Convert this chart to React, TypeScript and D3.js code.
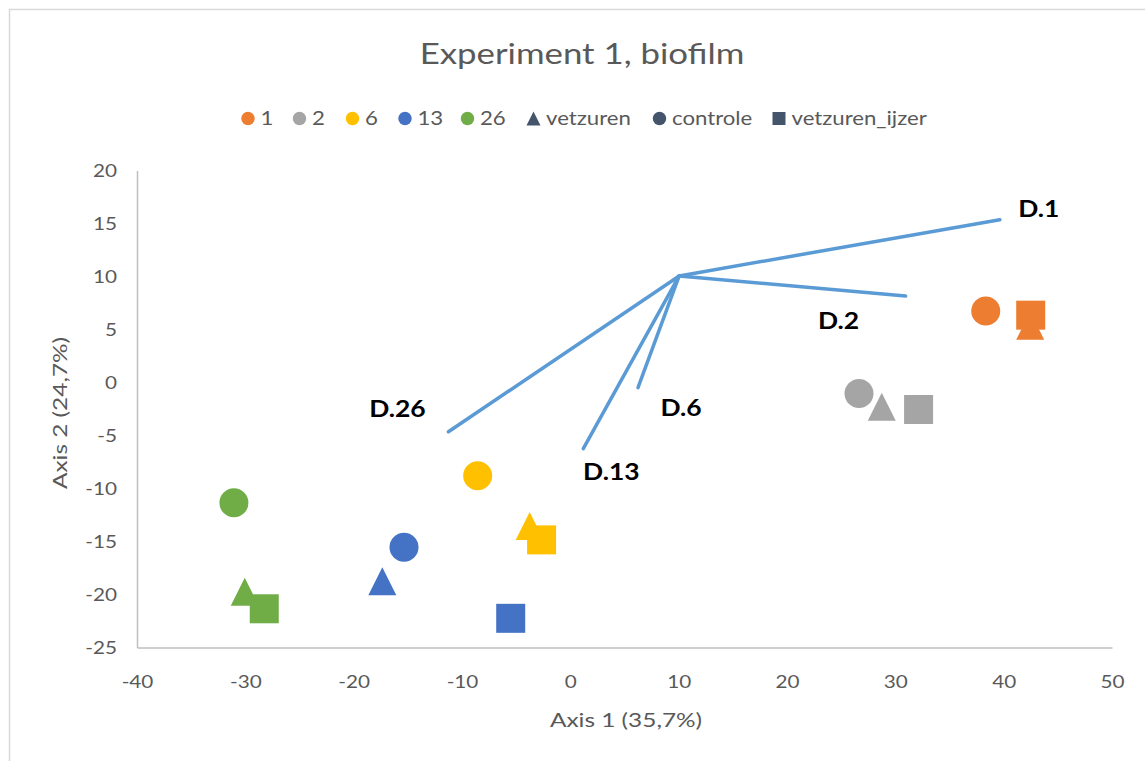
import React from "react";
import * as d3 from "d3";

// Sampling days (series) and their colours
const days = ["1", "2", "6", "13", "26"];
const dayColors = ["#ED7D31", "#A5A5A5", "#FFC000", "#4472C4", "#70AD47"];

// Site scores per treatment, one value per day
const controleX = [38.3, 26.6, -8.6, -15.4, -31.1];
const controleY = [6.8, -1.0, -8.75, -15.5, -11.3];
const vetzurenX = [42.4, 28.7, -3.8, -17.4, -30.1];
const vetzurenY = [5.4, -2.25, -13.5, -18.7, -19.7];
const ijzerX = [42.45, 32.1, -2.7, -5.55, -28.3];
const ijzerY = [6.4, -2.5, -14.8, -22.2, -21.3];

// Biplot vectors (environmental arrows) from a common origin
const vectorOrigin = [10, 10.1];
const vectorNames = ["D.1", "D.2", "D.6", "D.13", "D.26"];
const vectorEndX = [39.6, 30.9, 6.2, 1.15, -11.3];
const vectorEndY = [15.4, 8.2, -0.44, -6.2, -4.6];

// Axis ticks
const xTicks = [-40, -30, -20, -10, 0, 10, 20, 30, 40, 50];
const yTicks = [20, 15, 10, 5, 0, -5, -10, -15, -20, -25];

const treatments = ["vetzuren", "controle", "vetzuren_ijzer"];

const W = 1145;
const H = 761;
const FONT = "Lato, 'Noto Sans', sans-serif";
const TEXT_GREY = "#595959";
const AXIS_GREY = "#BFBFBF";
const VECTOR_BLUE = "#5B9BD5";
const LEGEND_DARK = "#44546A";

// pixel offsets of the vector labels relative to the arrow tips
const labelOffset: Record<string, [number, number]> = {
  "D.1": [39, -3],
  "D.2": [-67, 33],
  "D.6": [43, 28],
  "D.13": [28, 31],
  "D.26": [-51, -15],
};

const tri = (cx: number, cy: number, s: number) =>
  `M${cx},${cy - s / 2}L${cx + s / 2},${cy + s / 2}L${cx - s / 2},${cy + s / 2}Z`;

// Text widened horizontally around its anchor point
function Txt({
  x,
  y,
  sx = 1,
  rotate = 0,
  anchor = "start",
  children,
  ...rest
}: {
  x: number;
  y: number;
  sx?: number;
  rotate?: number;
  anchor?: string;
  children: React.ReactNode;
  [k: string]: any;
}) {
  return (
    <text
      transform={`translate(${x},${y}) rotate(${rotate}) scale(${sx},1)`}
      textAnchor={anchor}
      {...rest}
    >
      {children}
    </text>
  );
}

export default function App() {
  const x = d3.scaleLinear().domain([-40, 50]).range([137.5, 1112.5]);
  const y = d3.scaleLinear().domain([-25, 20]).range([648, 171]);

  const R = 14.5;
  const SQ = 29;
  const TRI = 28;

  const legendItems = [
    ...days.map((d, i) => ({ label: d, shape: "circle", color: dayColors[i], cx: [248, 299.5, 352.5, 405, 467.5][i] })),
    { label: treatments[0], shape: "triangle", color: LEGEND_DARK, cx: 533.5 },
    { label: treatments[1], shape: "circle", color: LEGEND_DARK, cx: 659.5 },
    { label: treatments[2], shape: "square", color: LEGEND_DARK, cx: 779 },
  ];

  return (
    <svg
      width={W}
      height={H}
      style={{ position: "absolute", left: 0, top: 0, background: "#fff" }}
      fontFamily={FONT}
    >
      <rect x={9.5} y={9.5} width={W} height={H} fill="#fff" stroke="#D9D9D9" strokeWidth={1.5} />

      <Txt x={582} y={64} sx={1.2} anchor="middle" fontSize={29} fill={TEXT_GREY}>
        Experiment 1, biofilm
      </Txt>

      {/* legend */}
      {legendItems.map((it) => (
        <g key={it.label}>
          {it.shape === "circle" && <circle cx={it.cx} cy={118.5} r={6.7} fill={it.color} />}
          {it.shape === "triangle" && <path d={tri(it.cx, 118.5, 14)} fill={it.color} />}
          {it.shape === "square" && <rect x={it.cx - 6.5} y={112} width={13} height={13} fill={it.color} />}
          <Txt x={it.cx + 12.5} y={125} sx={1.2} fontSize={18.5} fill={TEXT_GREY}>
            {it.label}
          </Txt>
        </g>
      ))}

      {/* axes */}
      <line x1={x(-40)} x2={x(50)} y1={y(-25)} y2={y(-25)} stroke={AXIS_GREY} strokeWidth={1.5} />
      <line x1={x(-40)} x2={x(-40)} y1={y(-25)} y2={y(20)} stroke={AXIS_GREY} strokeWidth={1.5} />

      {xTicks.map((t) => (
        <Txt key={t} x={x(t)} y={688} sx={1.15} anchor="middle" fontSize={18} fill={TEXT_GREY}>
          {t}
        </Txt>
      ))}
      {yTicks.map((t) => (
        <Txt key={t} x={117} y={y(t) + 6} sx={1.15} anchor="end" fontSize={18} fill={TEXT_GREY}>
          {t}
        </Txt>
      ))}

      <Txt x={626} y={727} sx={1.22} anchor="middle" fontSize={20} fill={TEXT_GREY}>
        Axis 1 (35,7%)
      </Txt>
      <Txt x={67} y={413} rotate={-90} sx={1.22} anchor="middle" fontSize={20} fill={TEXT_GREY}>
        Axis 2 (24,7%)
      </Txt>

      {/* biplot vectors */}
      {vectorNames.map((n, i) => (
        <line
          key={n}
          x1={x(vectorOrigin[0])}
          y1={y(vectorOrigin[1])}
          x2={x(vectorEndX[i])}
          y2={y(vectorEndY[i])}
          stroke={VECTOR_BLUE}
          strokeWidth={3.5}
          strokeLinecap="round"
        />
      ))}
      {vectorNames.map((n, i) => (
        <Txt
          key={n}
          x={x(vectorEndX[i]) + labelOffset[n][0]}
          y={y(vectorEndY[i]) + labelOffset[n][1]}
          sx={1.15}
          anchor="middle"
          fontSize={23}
          fontWeight="bold"
          fill="#000"
        >
          {n}
        </Txt>
      ))}

      {/* site markers: controle (circles), vetzuren (triangles), vetzuren_ijzer (squares) */}
      {days.map((d, i) => (
        <circle key={`c${d}`} cx={x(controleX[i])} cy={y(controleY[i])} r={R} fill={dayColors[i]} />
      ))}
      {days.map((d, i) => (
        <path key={`t${d}`} d={tri(x(vetzurenX[i]), y(vetzurenY[i]), TRI)} fill={dayColors[i]} />
      ))}
      {days.map((d, i) => (
        <rect
          key={`s${d}`}
          x={x(ijzerX[i]) - SQ / 2}
          y={y(ijzerY[i]) - SQ / 2}
          width={SQ}
          height={SQ}
          fill={dayColors[i]}
        />
      ))}
    </svg>
  );
}
